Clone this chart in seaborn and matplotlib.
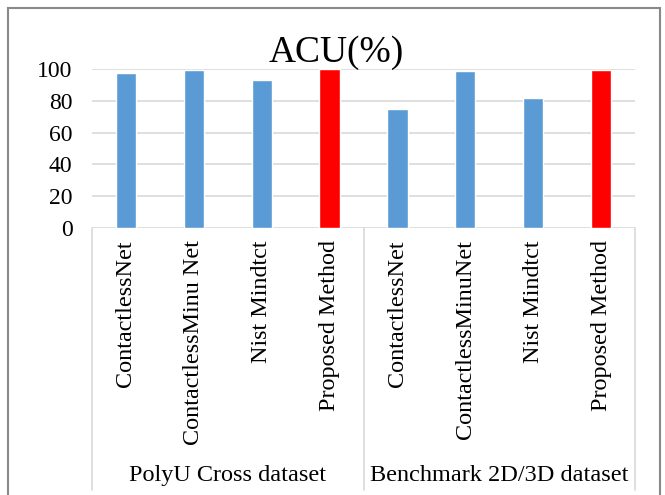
import matplotlib
matplotlib.use("Agg")
import matplotlib.pyplot as plt
import seaborn as sns
import pandas as pd
from matplotlib.patches import Rectangle
from matplotlib.lines import Line2D

groups = ["PolyU Cross dataset", "Benchmark 2D/3D dataset"]
methods_polyu = ["ContactlessNet", "ContactlessMinu Net", "Nist Mindtct", "Proposed Method"]
methods_bench = ["ContactlessNet", "ContactlessMinuNet", "Nist Mindtct", "Proposed Method"]
acu_polyu = [97.5, 99.6, 93.2, 100.0]
acu_bench = [74.6, 98.5, 81.8, 99.3]
yticks = [0, 20, 40, 60, 80, 100]
title = "ACU(%)"

rows = []
for g, ms, vs in [(groups[0], methods_polyu, acu_polyu), (groups[1], methods_bench, acu_bench)]:
    for m, v in zip(ms, vs):
        rows.append({"key": f"{g}|{m}", "group": g, "method": m, "acu": v,
                     "kind": "proposed" if m == "Proposed Method" else "other"})
df = pd.DataFrame(rows)

sns.set_theme(style="white")
plt.rcParams["font.family"] = ["Liberation Serif", "DejaVu Serif"]
plt.rcParams["text.color"] = "black"
plt.rcParams["ytick.color"] = "black"

W, H = 665, 495
fig = plt.figure(figsize=(W / 100, H / 100), dpi=100)
L, R, T, B = 92, 635, 69, 228
ax = fig.add_axes([L / W, 1 - B / H, (R - L) / W, (B - T) / H])

sns.barplot(data=df, x="key", y="acu", hue="kind", order=list(df["key"]),
            palette={"other": "#5B9BD5", "proposed": "#FF0000"},
            width=0.3, dodge=False, legend=False, ax=ax, saturation=1)

ax.set_ylim(0, 100)
ax.set_xlim(-0.5, len(df) - 0.5)
ax.set_yticks(yticks)
ax.set_yticklabels([str(t) for t in yticks], fontsize=17, color="black")
ax.tick_params(axis="y", length=0, pad=14)
ax.set_xticks([])
ax.set_xlabel("")
ax.set_ylabel("")
for s in ax.spines.values():
    s.set_visible(False)
ax.set_axisbelow(True)
for t in yticks:
    ax.axhline(t, color="#D9D9D9", lw=1.2, zorder=0)

fig.text(336 / W, 1 - 62 / H, title, fontsize=27, ha="center", va="baseline",
         color="black")

# category axis box lines
h_ax = B - T
y_bottom = -(490 - B) / h_ax
trans = ax.get_xaxis_transform()
for xv in [-0.5, 3.5, len(df) - 0.5]:
    ax.add_line(Line2D([xv, xv], [0, y_bottom], transform=trans, color="#D9D9D9",
                       lw=1.2, clip_on=False))

# rotated method labels
y_lab = -(240 - B) / h_ax
for i, m in enumerate(df["method"]):
    ax.text(i, y_lab, m, rotation=90, ha="center", va="top", fontsize=17.4,
            transform=trans, color="black")

# group labels
y_grp = -(475 - B) / h_ax
for gi, g in enumerate(groups):
    ax.text(gi * 4 + 1.5, y_grp, g, ha="center", va="center", fontsize=17.5,
            transform=trans, color="black")

# outer chart border
fig.patches.append(Rectangle((8 / W, -0.05), (660 - 8) / W, 1 - 8 / H + 0.05,
                             transform=fig.transFigure, fill=False,
                             edgecolor="#898989", lw=1.5))

fig.savefig("out.png", dpi=100)
